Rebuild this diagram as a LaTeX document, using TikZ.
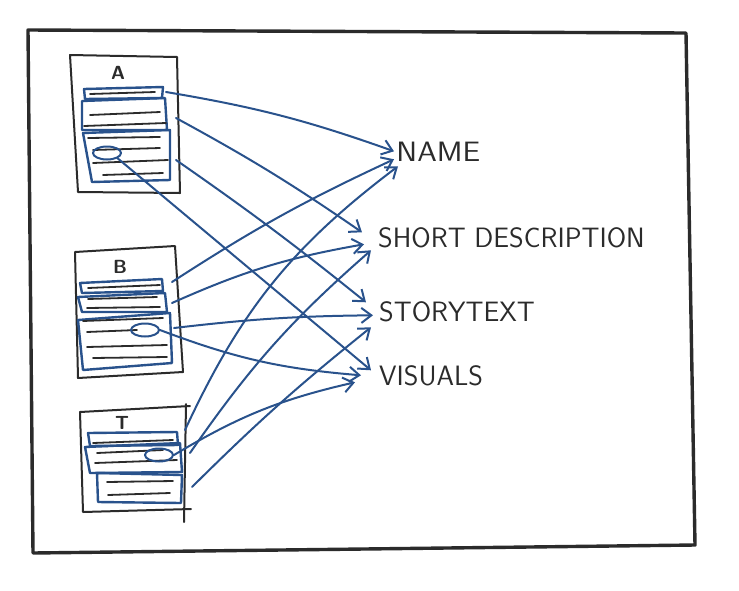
\documentclass[tikz,border=0pt]{standalone}
\usepackage{tikz}
\usetikzlibrary{arrows.meta,positioning,shapes.geometric}
\definecolor{penblue}{rgb}{0.16,0.32,0.55}
\definecolor{pengray}{rgb}{0.17,0.17,0.17}

\begin{document}
\begin{tikzpicture}[x=1pt,y=-1pt,line cap=round,line join=round,
  frame/.style={draw=pengray,line width=3.4pt},
  sheet/.style={draw=pengray,line width=2pt},
  stripe/.style={draw=penblue,line width=2.4pt},
  rule/.style={draw=pengray,line width=1.8pt},
  eye/.style={ellipse,draw=penblue,line width=2pt,minimum width=28pt,minimum height=13pt,inner sep=0pt},
  link/.style={draw=penblue,line width=2pt,-{Straight Barb[length=10pt,width=15pt]}},
  letter/.style={text=pengray,font=\sffamily\bfseries\fontsize{19}{19}\selectfont},
  field/.style={text=pengray,font=\sffamily\fontsize{28}{28}\selectfont,inner sep=2pt,anchor=base west}]

  \useasboundingbox (0,0) rectangle (739,590);
  % board
  \draw[frame] (28,30) -- (686,33) -- (695,545) -- (33,553) -- cycle;

  % sheet A
  \draw[sheet] (70,55) -- (177,57) -- (180,193) -- (78,192) -- cycle;
  \node[letter] (labA) at (118,73) {A};
  \draw[stripe] (84,89) -- (163,87) -- (162,98) -- (85,99) -- cycle;
  \draw[stripe] (82,101) -- (165,98) -- (167,130) -- (82,130) -- cycle;
  \draw[stripe] (83,133) -- (170,130) -- (170,180) -- (92,182) -- cycle;
  \draw[rule] (90,94) -- (155,92);
  \draw[rule] (90,115) -- (160,112);
  \draw[rule] (84,126) -- (166,123);
  \draw[rule] (88,138) -- (160,137);
  \draw[rule] (93,150) -- (160,148);
  \draw[rule] (93,163) -- (168,160);
  \draw[rule] (103,175) -- (163,173);
  \node[eye] (eyeA) at (107,153) {};
  \coordinate (a1) at (166,92);
  \coordinate (a2) at (176,118);
  \coordinate (a3) at (176,160);

  % sheet B
  \draw[sheet] (75,252) -- (175,246) -- (183,372) -- (78,378) -- cycle;
  \node[letter] (labB) at (120,267) {B};
  \draw[stripe] (80,283) -- (162,279) -- (163,291) -- (82,293) -- cycle;
  \draw[stripe] (78,297) -- (165,293) -- (167,312) -- (82,312) -- cycle;
  \draw[stripe] (78,320) -- (170,313) -- (172,363) -- (83,370) -- cycle;
  \draw[rule] (88,288) -- (160,285);
  \draw[rule] (88,299) -- (157,297);
  \draw[rule] (87,308) -- (160,307);
  \draw[rule] (83,321) -- (163,318);
  \draw[rule] (87,332) -- (137,330);
  \draw[rule] (87,347) -- (167,345);
  \draw[rule] (93,358) -- (167,357);
  \node[eye] (eyeB) at (145,330) {};
  \coordinate (b1) at (172,282);
  \coordinate (b2) at (172,303);
  \coordinate (b3) at (174,328);

  % sheet T
  \draw[sheet] (80,412) -- (190,406);
  \draw[sheet] (186,404) -- (184,522);
  \draw[sheet] (80,412) -- (83,512) -- (191,509);
  \node[letter] (labT) at (122,423) {T};
  \draw[stripe] (88,433) -- (177,432) -- (178,445) -- (90,446) -- cycle;
  \draw[stripe] (85,447) -- (180,443) -- (182,472) -- (90,473) -- cycle;
  \draw[stripe] (97,473) -- (182,475) -- (181,503) -- (98,502) -- cycle;
  \draw[rule] (93,443) -- (173,440);
  \draw[rule] (97,453) -- (163,450);
  \draw[rule] (95,463) -- (177,460);
  \draw[rule] (107,482) -- (173,481);
  \draw[rule] (108,495) -- (170,493);
  \node[eye] (eyeT) at (159,455) {};
  \coordinate (t1) at (185,430);
  \coordinate (t2) at (190,453);
  \coordinate (t4) at (192,487);

  % fields
  \node[field,xscale=1.12] (name) at (394,161) {NAME};
  \node[field] (short) at (376,247) {SHORT DESCRIPTION};
  \node[field] (story) at (377,321) {STORYTEXT};
  \node[field] (visual) at (377,385) {VISUALS};

  \path[every edge/.append style={link}]
    (a1) edge[bend left=5] (name.west)
    (a2) edge[bend left=3] ([shift={(-14pt,5pt)}]short.west)
    (a3) edge[bend left=2] ([shift={(-11pt,9pt)}]story.west)
    (eyeA.south east) edge ([shift={(-6pt,5pt)}]visual.west)
    (b1) edge[bend left=4] ([yshift=-8pt]name.west)
    (b2) edge[bend left=7] ([shift={(-12pt,-7pt)}]short.west)
    (b3) edge[bend left=3] ([shift={(-4pt,-4pt)}]story.west)
    (eyeB.east) edge[bend right=8] ([shift={(-16pt,0pt)}]visual.west)
    (t1) edge[bend left=14] ([shift={(4pt,-15pt)}]name.west)
    (t2) edge[bend left=7] ([shift={(-5pt,-13pt)}]short.west)
    (eyeT.east) edge[bend left=9] ([shift={(-22pt,-7pt)}]visual.west)
    (t4) edge[bend left=3] ([shift={(-6pt,-16pt)}]story.west);
\end{tikzpicture}
\end{document}
